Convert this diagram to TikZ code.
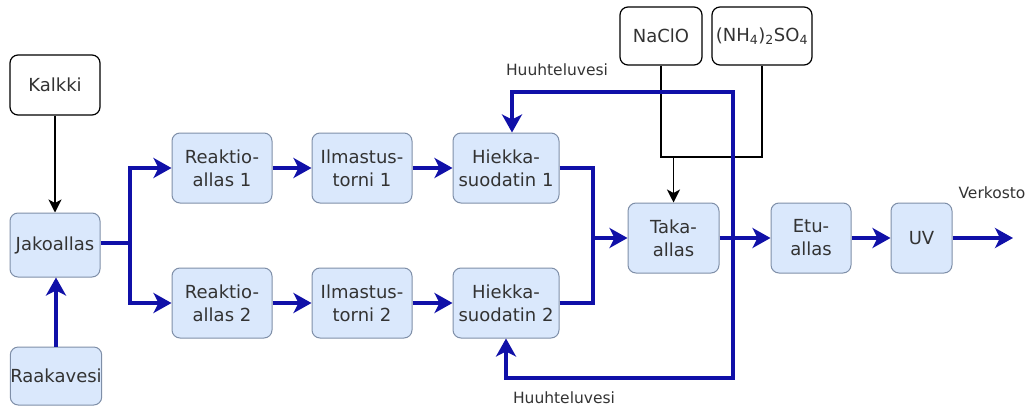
\documentclass[tikz,border=0pt]{standalone}
\usepackage{fontspec}
\setmainfont{DejaVu Sans}
\usetikzlibrary{arrows.meta}
\definecolor{boxfill}{HTML}{DAE8FC}
\definecolor{boxborder}{HTML}{7F8FA8}
\definecolor{flowblue}{HTML}{1010A8}
\definecolor{txt}{HTML}{333333}
\tikzset{
  procbox/.style={draw=boxborder, fill=boxfill, rounded corners=8pt, line width=1pt,
    text=txt, font=\fontsize{18}{23}\selectfont, align=center, inner sep=0pt},
  chembox/.style={draw=black, fill=white, rounded corners=8pt, line width=1.2pt,
    text=txt, font=\fontsize{18}{23}\selectfont, align=center, inner sep=0pt},
  lbl/.style={text=txt, font=\fontsize{15.5}{18}\selectfont, inner sep=0pt},
  bline/.style={draw=flowblue, line width=3.3pt},
  barrow/.style={bline, -{Stealth[length=18pt,width=20pt,inset=5pt]}},
  bboth/.style={bline, {Stealth[length=18pt,width=20pt,inset=5pt]}-{Stealth[length=18pt,width=20pt,inset=5pt]}},
  kline/.style={draw=black, line width=1.4pt},
  karrow/.style={kline, -{Stealth[length=13pt,width=13pt,inset=3.5pt]}},
}
\begin{document}
\begin{tikzpicture}[x=1pt,y=-1pt]
\useasboundingbox (0,0) rectangle (1036,412);
% nodes
\node[chembox, minimum width=90pt, minimum height=60pt] (kalkki) at (55,85) {Kalkki};
\node[procbox, minimum width=90pt, minimum height=64pt] (jako) at (55,245) {Jakoallas};
\node[procbox, minimum width=88pt, minimum height=58pt] (raaka) at (56,376) {Raakavesi};
\node[procbox, minimum width=100pt, minimum height=70pt] (r1) at (222,168) {Reaktio-\\allas 1};
\node[procbox, minimum width=100pt, minimum height=70pt] (r2) at (222,303) {Reaktio-\\allas 2};
\node[procbox, minimum width=100pt, minimum height=70pt] (i1) at (362,168) {Ilmastus-\\torni 1};
\node[procbox, minimum width=100pt, minimum height=70pt] (i2) at (362,303) {Ilmastus-\\torni 2};
\node[procbox, minimum width=106pt, minimum height=70pt] (h1) at (506,168) {Hiekka-\\suodatin 1};
\node[procbox, minimum width=106pt, minimum height=70pt] (h2) at (506,303) {Hiekka-\\suodatin 2};
\node[procbox, minimum width=91pt, minimum height=70pt] (taka) at (673.5,238) {Taka-\\allas};
\node[procbox, minimum width=80pt, minimum height=70pt] (etu) at (811,238) {Etu-\\allas};
\node[procbox, minimum width=61pt, minimum height=70pt] (uv) at (921.5,238) {UV};
\node[chembox, minimum width=82pt, minimum height=58pt] (naclo) at (661,36) {NaClO};
\node[chembox, minimum width=100pt, minimum height=58pt] (nh) at (762,36) {(NH\textsubscript{4})\textsubscript{2}SO\textsubscript{4}};
% labels
\node[lbl] (hlab1) at (557,70) {Huuhteluvesi};
\node[lbl] (hlab2) at (564,398) {Huuhteluvesi};
\node[lbl] (verk) at (992,193) {Verkosto};
% coordinates
\coordinate (split) at (130,243);
\coordinate (merge) at (593,238);
\coordinate (chemjoin) at (675,157);
\coordinate (rtop) at (733,92);
\coordinate (rbot) at (733,378);
\coordinate (out) at (1013,238);
% black connectors
\draw[karrow] (kalkki.south) -- (jako.north);
\draw[kline] (naclo.south) -- (naclo.south |- chemjoin) -- (nh.south |- chemjoin) -- (nh.south);
\draw[karrow] (taka.north |- chemjoin) -- (taka.north);
% blue connectors
\draw[barrow] (raaka.north) -- (raaka.north |- jako.south);
\draw[barrow] (jako.east |- split) -- (split) |- (r1.west);
\draw[barrow] (split) |- (r2.west);
\draw[barrow] (r1.east) -- (i1.west);
\draw[barrow] (r2.east) -- (i2.west);
\draw[barrow] (i1.east) -- (h1.west);
\draw[barrow] (i2.east) -- (h2.west);
\draw[bline] (h1.east) -| (merge);
\draw[bline] (h2.east) -| (merge);
\draw[barrow] (merge) -- (taka.west);
\draw[barrow] (taka.east) -- (etu.west);
\draw[barrow] (etu.east) -- (uv.west);
\draw[barrow] (uv.east) -- (out);
\draw[bboth] ([xshift=6pt]h1.north) |- (rtop) -- (rbot) -| (h2.south);
\end{tikzpicture}
\end{document}
